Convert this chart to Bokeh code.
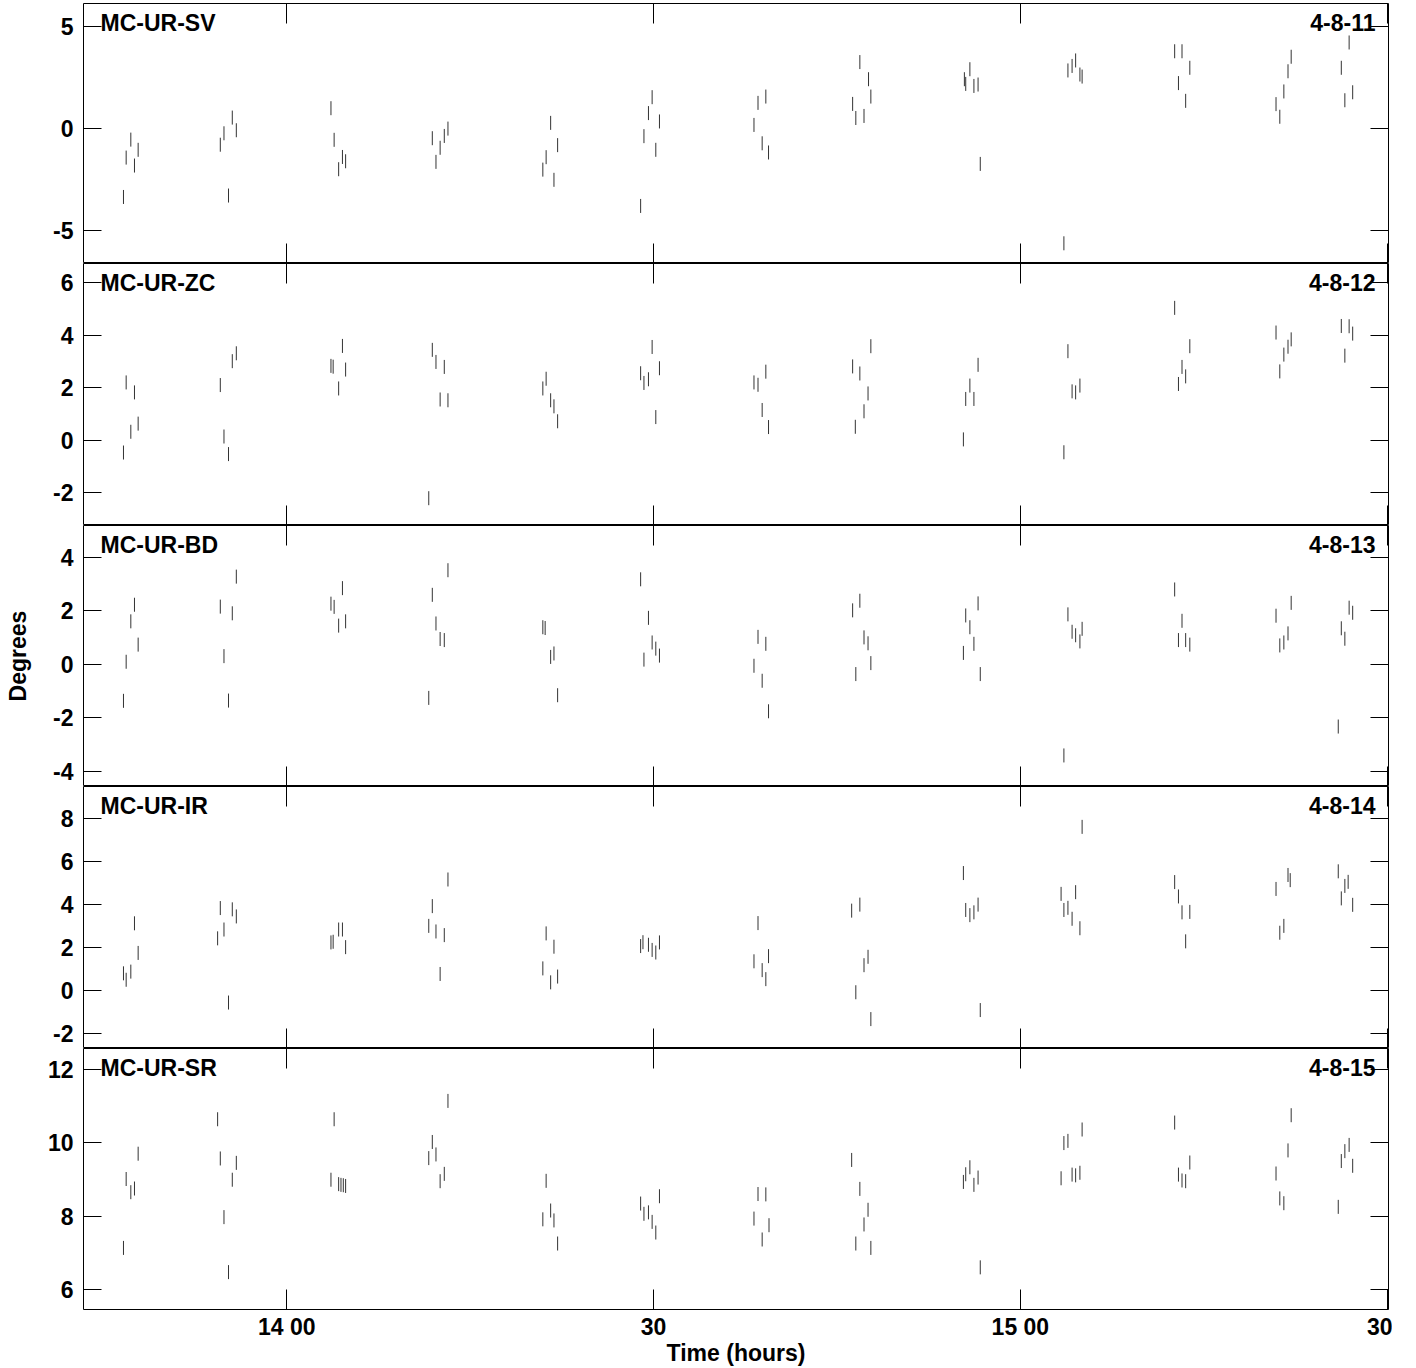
import numpy as np
from bokeh.plotting import figure
from bokeh.layouts import column
from bokeh.models import Range1d, LinearAxis, FixedTicker, Label
from bokeh.embed import file_html
from bokeh.resources import INLINE

# ---------------- data (time in minutes after 13:00, values in degrees) -------------
x_tick_values = [60, 90, 120, 150]
x_tick_labels = ["14 00", "30", "15 00", "30"]

panel_names = ["MC-UR-SV", "MC-UR-ZC", "MC-UR-BD", "MC-UR-IR", "MC-UR-SR"]
panel_dates = ["4-8-11", "4-8-12", "4-8-13", "4-8-14", "4-8-15"]

sv_time = [46.64, 46.86, 47.24, 47.54, 47.84,
           54.56, 54.86, 55.23, 55.54, 55.87,
           63.61, 63.87, 64.24, 64.55, 64.81,
           71.90, 72.20, 72.54, 72.88, 73.18,
           80.94, 81.21, 81.58, 81.85, 82.15,
           88.94, 89.21, 89.58, 89.88, 90.18, 90.48,
           98.21, 98.54, 98.88, 99.18, 99.40,
           106.28, 106.54, 106.87, 107.21, 107.58, 107.77,
           115.42, 115.53, 115.87, 116.20, 116.54, 116.72,
           123.56, 123.89, 124.23, 124.52, 124.87, 125.05,
           132.62, 132.93, 133.22, 133.52, 133.86,
           140.91, 141.22, 141.55, 141.89, 142.15,
           146.25, 146.54, 146.89, 147.18]
sv_deg = [-3.37, -1.44, -0.56, -1.83, -1.06,
          -0.81, -0.25, -3.30, 0.52, -0.10,
          0.98, -0.57, -2.01, -1.41, -1.62,
          -0.49, -1.65, -0.96, -0.38, -0.02,
          -2.03, -1.42, 0.26, -2.53, -0.83,
          -3.81, -0.39, 0.74, 1.52, -1.06, 0.33,
          0.16, 1.24, -0.74, 1.55, -1.19,
          1.19, 0.50, 3.24, 0.60, 2.40, 1.55,
          2.40, 2.17, 2.89, 2.07, 2.14, -1.75,
          -5.64, 2.83, 3.05, 3.32, 2.63, 2.53,
          3.77, 2.21, 3.77, 1.34, 2.96,
          1.18, 0.56, 1.80, 2.79, 3.50,
          2.96, 1.37, 4.20, 1.76]

zc_time = [46.64, 46.86, 47.24, 47.54, 47.84,
           54.56, 54.86, 55.23, 55.54, 55.87,
           63.61, 63.79, 64.24, 64.55, 64.81,
           71.61, 71.90, 72.20, 72.54, 72.88, 73.18,
           80.94, 81.21, 81.58, 81.85, 82.15,
           88.94, 89.21, 89.58, 89.88, 90.18, 90.48,
           98.21, 98.54, 98.88, 99.18, 99.40,
           106.28, 106.50, 106.87, 107.21, 107.54, 107.77,
           115.34, 115.53, 115.87, 116.20, 116.54,
           123.56, 123.89, 124.23, 124.52, 124.87,
           132.62, 132.93, 133.22, 133.52, 133.86,
           140.91, 141.22, 141.55, 141.89, 142.15,
           146.25, 146.54, 146.89, 147.18]
zc_deg = [-0.46, 2.21, 0.33, 1.83, 0.64,
          2.11, 0.15, -0.52, 3.02, 3.32,
          2.84, 2.81, 1.98, 3.60, 2.70,
          -2.20, 3.45, 2.99, 1.56, 2.80, 1.53,
          1.98, 2.35, 1.53, 1.30, 0.73,
          2.56, 2.19, 2.33, 3.56, 0.89, 2.75,
          2.21, 2.12, 1.16, 2.62, 0.51,
          2.82, 0.52, 2.55, 1.11, 1.79, 3.59,
          0.04, 1.58, 2.09, 1.58, 2.88,
          -0.45, 3.40, 1.87, 1.83, 2.09,
          5.05, 2.15, 2.80, 2.44, 3.59,
          4.11, 2.63, 3.27, 3.57, 3.85,
          4.36, 3.23, 4.35, 4.07]

bd_time = [46.64, 46.86, 47.24, 47.54, 47.84,
           54.56, 54.86, 55.23, 55.54, 55.87,
           63.61, 63.87, 64.24, 64.55, 64.81,
           71.61, 71.90, 72.20, 72.54, 72.88, 73.18,
           80.94, 81.13, 81.58, 81.85, 82.15,
           88.94, 89.21, 89.58, 89.88, 90.18, 90.48,
           98.21, 98.54, 98.88, 99.18, 99.40,
           106.28, 106.54, 106.87, 107.21, 107.54, 107.77,
           115.34, 115.53, 115.87, 116.20, 116.54, 116.72,
           123.56, 123.89, 124.23, 124.52, 124.87, 125.05,
           132.62, 132.93, 133.22, 133.52, 133.86,
           140.91, 141.22, 141.55, 141.89, 142.15,
           146.00, 146.25, 146.54, 146.89, 147.18]
bd_deg = [-1.36, 0.10, 1.61, 2.23, 0.74,
          2.16, 0.31, -1.35, 1.91, 3.28,
          2.27, 2.15, 1.45, 2.85, 1.61,
          -1.25, 2.60, 1.53, 0.95, 0.91, 3.52,
          1.39, 1.36, 0.28, 0.41, -1.15,
          3.18, 0.18, 1.74, 0.82, 0.59, 0.33,
          -0.05, 1.03, -0.61, 0.77, -1.75,
          2.02, -0.36, 2.38, 1.01, 0.79, 0.05,
          0.43, 1.83, 1.39, 0.77, 2.28, -0.36,
          -3.40, 1.87, 1.22, 1.09, 0.86, 1.33,
          2.80, 0.91, 1.63, 0.91, 0.74,
          1.82, 0.71, 0.82, 1.16, 2.30,
          -2.32, 1.35, 0.96, 2.12, 1.93]

ir_time = [46.64, 46.86, 47.24, 47.54, 47.84,
           54.34, 54.56, 54.86, 55.23, 55.54, 55.87,
           63.61, 63.79, 64.24, 64.55, 64.81,
           71.61, 71.90, 72.20, 72.54, 72.88, 73.18,
           80.94, 81.21, 81.58, 81.85, 82.15,
           88.94, 89.13, 89.58, 89.88, 90.18, 90.48,
           98.21, 98.54, 98.88, 99.18, 99.40,
           106.20, 106.54, 106.87, 107.21, 107.54, 107.77,
           115.34, 115.53, 115.87, 116.20, 116.54, 116.72,
           123.33, 123.56, 123.89, 124.23, 124.52, 124.87, 125.05,
           132.62, 132.93, 133.22, 133.52, 133.86,
           140.91, 141.22, 141.55, 141.89, 142.07,
           146.00, 146.25, 146.54, 146.81, 147.18]
ir_deg = [0.80, 0.50, 0.88, 3.13, 1.75,
          2.43, 3.84, 2.84, -0.56, 3.78, 3.45,
          2.24, 2.27, 2.84, 2.84, 2.02,
          3.01, 3.93, 2.75, 0.77, 2.58, 5.17,
          1.03, 2.66, 0.38, 2.04, 0.65,
          2.07, 2.25, 2.13, 1.89, 1.77, 2.24,
          1.36, 3.14, 0.95, 0.53, 1.60,
          3.72, -0.08, 4.00, 1.18, 1.57, -1.33,
          5.47, 3.75, 3.51, 3.64, 4.00, -0.91,
          4.50, 3.75, 3.85, 3.34, 4.58, 2.90, 7.62,
          5.05, 4.38, 3.64, 2.29, 3.66,
          4.73, 2.69, 3.01, 5.38, 5.14,
          5.55, 4.29, 4.87, 5.06, 3.99]

sr_time = [46.64, 46.86, 47.24, 47.54, 47.84,
           54.34, 54.56, 54.86, 55.23, 55.54, 55.87,
           63.61, 63.87, 64.24, 64.43, 64.62, 64.81,
           71.61, 71.90, 72.20, 72.54, 72.88, 73.18,
           80.94, 81.21, 81.58, 81.85, 82.15,
           88.94, 89.21, 89.58, 89.88, 90.18, 90.48,
           98.21, 98.54, 98.88, 99.18, 99.44,
           106.20, 106.54, 106.87, 107.21, 107.54, 107.77,
           115.34, 115.53, 115.87, 116.20, 116.54, 116.72,
           123.33, 123.56, 123.89, 124.23, 124.52, 124.87, 125.05,
           132.62, 132.93, 133.22, 133.52, 133.86,
           140.91, 141.22, 141.55, 141.89, 142.15,
           146.00, 146.25, 146.54, 146.89, 147.18]
sr_deg = [7.13, 9.01, 8.65, 8.75, 9.70,
          10.64, 9.57, 7.97, 6.47, 8.99, 9.45,
          8.99, 10.64, 8.87, 8.85, 8.84, 8.82,
          9.58, 10.02, 9.68, 8.95, 9.15, 11.14,
          7.91, 8.96, 8.15, 7.88, 7.25,
          8.34, 8.06, 8.10, 7.84, 7.55, 8.54,
          7.93, 8.60, 7.36, 8.59, 7.75,
          9.53, 7.25, 8.74, 7.77, 8.17, 7.13,
          8.93, 9.14, 9.33, 8.85, 9.05, 6.60,
          9.03, 9.99, 10.05, 9.13, 9.11, 9.18, 10.36,
          10.55, 9.13, 8.97, 8.95, 9.46,
          9.16, 8.48, 8.35, 9.79, 10.75,
          8.25, 9.50, 9.77, 9.94, 9.37]

sv_yticks = [-5, 0, 5]
zc_yticks = [-2, 0, 2, 4, 6]
bd_yticks = [-4, -2, 0, 2, 4]
ir_yticks = [-2, 0, 2, 4, 6, 8]
sr_yticks = [6, 8, 10, 12]

# ---------------- chart -------------------------------------------------------------
FONT = "Liberation Sans"
TICK_FONT = "23px"
BIG_FONT = "23px"

x_range = Range1d(43.37, 150.11)

# (times, values, y ticks, y range, frame height, top border)
panels = [
    (sv_time, sv_deg, sv_yticks, (-6.63, 6.11), 260, 3),
    (zc_time, zc_deg, zc_yticks, (-3.24, 6.74), 262, 0),
    (bd_time, bd_deg, bd_yticks, (-4.56, 5.19), 261, 0),
    (ir_time, ir_deg, ir_yticks, (-2.70, 9.50), 262, 0),
    (sr_time, sr_deg, sr_yticks, (5.45, 12.57), 261, 0),
]


def style_ticks(ax, tick_len):
    ax.axis_line_color = None
    ax.major_tick_in = tick_len
    ax.major_tick_out = 0
    ax.minor_tick_in = 0
    ax.minor_tick_out = 0
    ax.major_tick_line_color = "black"
    ax.major_tick_line_width = 1


def tick_only_axis(ticks, tick_len):
    ax = LinearAxis(ticker=FixedTicker(ticks=ticks, minor_ticks=[]))
    style_ticks(ax, tick_len)
    ax.major_label_overrides = {t: "" for t in ticks}
    ax.major_label_text_font_size = "1px"
    ax.major_label_standoff = 0
    return ax


figs = []
for i, (tt, vv, yt, (lo, hi), fh, top_border) in enumerate(panels):
    last = i == len(panels) - 1
    p = figure(frame_width=1305, frame_height=fh,
               x_range=x_range, y_range=Range1d(lo, hi),
               x_axis_location=None, y_axis_location=None,
               output_backend="svg", toolbar_location=None,
               min_border_left=83, min_border_right=4,
               min_border_top=top_border, min_border_bottom=0)
    p.grid.visible = False
    p.outline_line_color = "black"
    p.outline_line_width = 1
    p.outline_line_alpha = 1
    p.background_fill_color = "white"
    p.border_fill_color = "white"

    # left axis with labels
    yax = LinearAxis(ticker=FixedTicker(ticks=yt, minor_ticks=[]))
    style_ticks(yax, 18)
    yax.major_label_overrides = {t: str(t) for t in yt}
    yax.major_label_text_font = FONT
    yax.major_label_text_font_style = "bold"
    yax.major_label_text_font_size = TICK_FONT
    yax.major_label_text_color = "black"
    yax.major_label_standoff = 10
    if i == 2:
        yax.axis_label = "Degrees"
        yax.axis_label_text_font = FONT
        yax.axis_label_text_font_style = "bold"
        yax.axis_label_text_font_size = BIG_FONT
        yax.axis_label_text_color = "black"
        yax.axis_label_standoff = 19
    p.add_layout(yax, "left")
    p.add_layout(tick_only_axis(yt, 18), "right")

    # top axis: ticks only
    p.add_layout(tick_only_axis(x_tick_values, 20), "above")

    # bottom axis
    if last:
        xax = LinearAxis(ticker=FixedTicker(ticks=x_tick_values, minor_ticks=[]))
        style_ticks(xax, 20)
        xax.major_label_overrides = dict(zip(x_tick_values, x_tick_labels))
        xax.major_label_text_font = FONT
        xax.major_label_text_font_style = "bold"
        xax.major_label_text_font_size = TICK_FONT
        xax.major_label_text_color = "black"
        xax.major_label_standoff = 4
        xax.axis_label = "Time (hours)"
        xax.axis_label_text_font = FONT
        xax.axis_label_text_font_style = "bold"
        xax.axis_label_text_font_size = BIG_FONT
        xax.axis_label_text_color = "black"
        xax.axis_label_standoff = -3
        p.add_layout(xax, "below")
    else:
        p.add_layout(tick_only_axis(x_tick_values, 20), "below")

    p.scatter(x=tt, y=vv, marker="dash", size=14, angle=np.pi / 2,
              line_color="#333333", line_width=1)

    p.add_layout(Label(x=x_range.start, y=hi, x_units="data", y_units="data",
                       x_offset=17, y_offset=-19, text=panel_names[i],
                       text_font=FONT, text_font_style="bold",
                       text_font_size=BIG_FONT, text_color="black",
                       text_align="left", text_baseline="alphabetic"))
    p.add_layout(Label(x=x_range.end, y=hi, x_units="data", y_units="data",
                       x_offset=-13, y_offset=-19, text=panel_dates[i],
                       text_font=FONT, text_font_style="bold",
                       text_font_size=BIG_FONT, text_color="black",
                       text_align="right", text_baseline="alphabetic"))
    figs.append(p)

layout = column(*figs, spacing=0)
open("out.html", "w").write(file_html(layout, INLINE))
